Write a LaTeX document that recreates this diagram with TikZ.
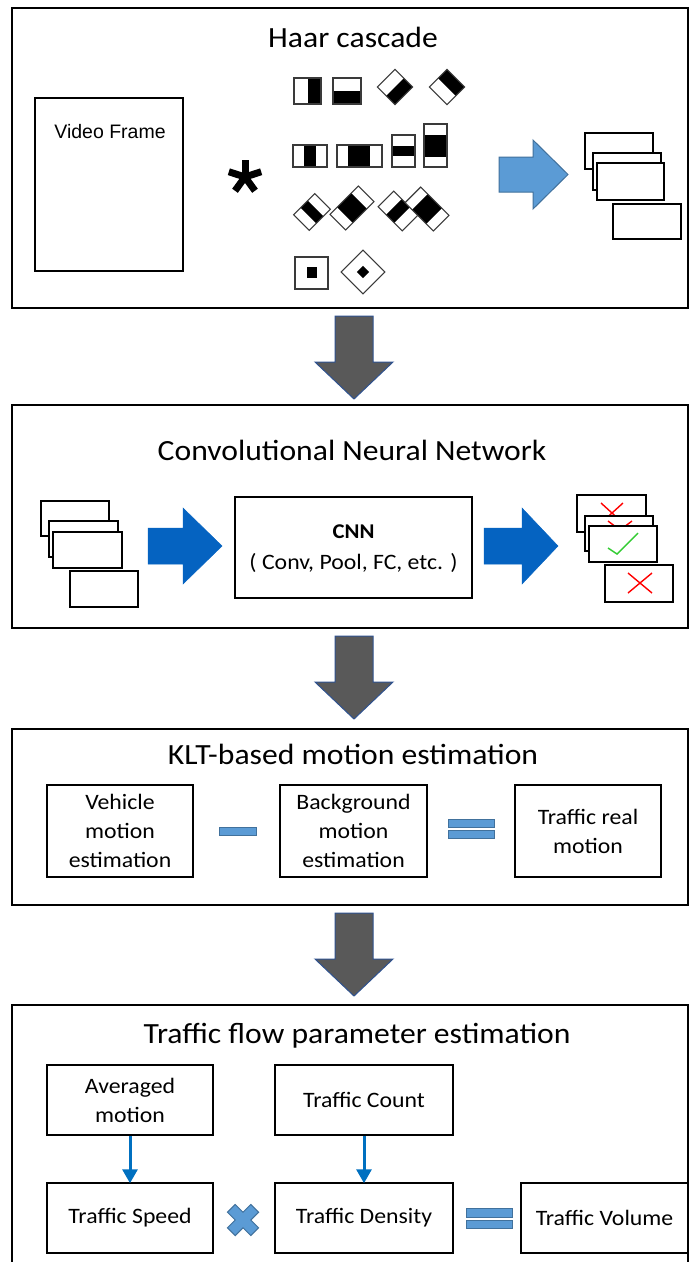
\documentclass[tikz,border=0pt]{standalone}
\usepackage{fontspec}
\setmainfont[FakeStretch=1.08]{Carlito}
\newfontfamily\arialf{Liberation Sans}
\usetikzlibrary{arrows.meta}
\definecolor{grayarrow}{HTML}{595959}
\definecolor{grayedge}{HTML}{2F528F}
\definecolor{lightblue}{HTML}{5B9BD5}
\definecolor{lightedge}{HTML}{41719C}
\definecolor{darkblue}{HTML}{0563C1}
\definecolor{flowblue}{HTML}{0070C0}
\definecolor{okgreen}{HTML}{33CC33}
\definecolor{haaredge}{HTML}{3A3A3A}
\begin{document}
\begin{tikzpicture}[x=1pt,y=-1pt,
  panel/.style={draw=black,line width=1.5pt},
  titletext/.style={anchor=base,inner sep=0pt,font=\fontsize{29.3}{34}\selectfont},
  box/.style={draw=black,line width=1.5pt,fill=white,inner sep=0pt,align=center,font=\fontsize{22}{29}\selectfont},
  frame/.style={draw=black,line width=2pt,fill=white},
  haar/.style={draw=haaredge,line width=1.1pt},
  grayarr/.style={fill=grayarrow,draw=grayedge,line width=1pt,line join=miter},
  bluearr/.style={fill=lightblue,draw=lightedge,line width=1pt},
  darkarr/.style={fill=darkblue,draw=darkblue,line width=0.5pt},
  opshape/.style={fill=lightblue,draw=lightedge,line width=1pt},
  flowarr/.style={draw=flowblue,line width=3pt,-{Triangle[width=15pt,length=14pt]},shorten >=-1pt},
  nomark/.style={draw=red,line width=1.4pt},
  okmark/.style={draw=okgreen,line width=1.4pt}
]
\useasboundingbox (0,0) rectangle (689,1262);
\clip (0,0) rectangle (689,1262);
\fill[white] (0,0) rectangle (689,1262);

% ---------------- Panel 1: Haar cascade ----------------
\draw[panel] (12,8) rectangle (688,308);
\node[titletext] (t1) at (353,47) {Haar cascade};
\node[draw=black,line width=1.5pt,minimum width=148pt,minimum height=173pt,inner sep=0pt] (vf) at (109,184.5) {};
\node[font=\arialf\fontsize{19.5}{22}\selectfont,inner sep=0pt] (vft) at (110,132) {Video Frame};
% asterisk
\foreach \a in {-90,-18,-162,54,126} \draw[line width=7pt] (245,177) -- ++(\a:17);

% Haar features, row 1
\fill[white] (294,78) rectangle (321,104);
\fill[black] (307.5,78) rectangle (321,104);
\draw[haar] (294,78) rectangle (321,104);
\fill[black] (333,91) rectangle (361,104);
\draw[haar] (333,78) rectangle (361,104);
\begin{scope}[shift={(395,87)},rotate=-45]
  \fill[black] (0,-12.5) rectangle (12.5,12.5);
  \draw[haar] (-12.5,-12.5) rectangle (12.5,12.5);
\end{scope}
\begin{scope}[shift={(447,87)},rotate=45]
  \fill[black] (0,-12.5) rectangle (12.5,12.5);
  \draw[haar] (-12.5,-12.5) rectangle (12.5,12.5);
\end{scope}
% row 2
\fill[black] (304,145) rectangle (316,167);
\draw[haar] (293,145) rectangle (327,167);
\fill[black] (348,145) rectangle (370,167);
\draw[haar] (337,145) rectangle (382,167);
\fill[black] (392,146) rectangle (415,156);
\draw[haar] (392,135) rectangle (415,167);
\fill[black] (424,135) rectangle (447,157);
\draw[haar] (424,124) rectangle (447,167);
% row 3
\begin{scope}[shift={(312,212)},rotate=45]
  \fill[black] (-5,-11) rectangle (5,11);
  \draw[haar] (-15,-11) rectangle (15,11);
\end{scope}
\begin{scope}[shift={(352,208)},rotate=45]
  \fill[black] (-10,-11) rectangle (10,11);
  \draw[haar] (-20,-11) rectangle (20,11);
\end{scope}
\begin{scope}[shift={(398,211)},rotate=-45]
  \fill[white] (-17,-11) rectangle (17,11);
  \fill[black] (-5.7,-11) rectangle (5.7,11);
  \draw[haar] (-17,-11) rectangle (17,11);
\end{scope}
\begin{scope}[shift={(427,209)},rotate=-45]
  \fill[white] (-20,-11) rectangle (20,11);
  \fill[black] (-10,-11) rectangle (10,11);
  \draw[haar] (-20,-11) rectangle (20,11);
\end{scope}
% row 4
\fill[black] (307,267) rectangle (317,278);
\draw[haar] (295,257) rectangle (328,289);
\begin{scope}[shift={(363,272)},rotate=45]
  \fill[black] (-4.3,-4.3) rectangle (4.3,4.3);
  \draw[haar] (-15.5,-15.5) rectangle (15.5,15.5);
\end{scope}

% blue arrow
\draw[bluearr] (499,157) -- (533,157) -- (533,140) -- (568,174.5) -- (533,209) -- (533,192) -- (499,192) -- cycle;
% detections
\draw[frame] (585,133) rectangle (653,169);
\draw[frame] (593,153) rectangle (661,190);
\draw[frame] (597,163) rectangle (664,200);
\draw[frame] (613,204) rectangle (681,239);

% gray arrow 1
\draw[grayarr] (335,316) -- (373,316) -- (373,362) -- (393,362) -- (354,399) -- (315,362) -- (335,362) -- cycle;

% ---------------- Panel 2: CNN ----------------
\draw[panel] (12,405) rectangle (688,628);
\node[titletext] (t2) at (352,460) {Convolutional Neural Network};
\draw[frame] (41,501) rectangle (109,536);
\draw[frame] (49,521) rectangle (118,557);
\draw[frame] (53,532) rectangle (122,568);
\draw[frame] (70,571) rectangle (138,607);
\draw[darkarr] (148,528) -- (183,528) -- (183,508) -- (222,546) -- (183,584) -- (183,564) -- (148,564) -- cycle;
\node[box,minimum width=237pt,minimum height=101pt] (cnn) at (353.5,547.5) {};
\node[font=\fontsize{21}{24}\selectfont\bfseries,inner sep=0pt] (cnnt) at (353.5,532) {CNN};
\node[font=\fontsize{22}{26}\selectfont,inner sep=0pt] (cnns) at (353.5,563) {( Conv, Pool, FC, etc. )};
\draw[darkarr] (484,528) -- (522,528) -- (522,508) -- (558,546) -- (522,584) -- (522,564) -- (484,564) -- cycle;
\draw[frame] (577,495) rectangle (646,532);
\draw[nomark] (601,503) -- (623,523) (623,503) -- (601,523);
\draw[frame] (585,516) rectangle (653,551);
\draw[nomark] (608,521) -- (632,539) (632,521) -- (608,539);
\draw[frame] (589,526) rectangle (657,562);
\draw[okmark] (608,548) -- (617,554) -- (638,533);
\draw[frame] (605,565) rectangle (673,602);
\draw[nomark] (628,573) -- (652,593) (652,573) -- (628,593);

% gray arrow 2
\draw[grayarr] (335,636) -- (373,636) -- (373,682) -- (393,682) -- (354,719) -- (315,682) -- (335,682) -- cycle;

% ---------------- Panel 3: KLT ----------------
\draw[panel] (12,729) rectangle (688,905);
\node[titletext] (t3) at (353,764) {KLT-based motion estimation};
\node[box,minimum width=146pt,minimum height=92pt] (veh) at (120,831) {Vehicle\\motion\\estimation};
\node[box,minimum width=147pt,minimum height=92pt] (bg) at (353.5,831) {Background\\motion\\estimation};
\node[box,minimum width=146pt,minimum height=92pt] (real) at (588,831) {Traffic real\\motion};
\draw[opshape] (219,827) rectangle (256,835);
\draw[opshape] (448,819) rectangle (494,827);
\draw[opshape] (448,830) rectangle (494,838);

% gray arrow 3
\draw[grayarr] (335,913) -- (373,913) -- (373,959) -- (393,959) -- (354,996) -- (315,959) -- (335,959) -- cycle;

% ---------------- Panel 4: Traffic flow ----------------
\draw[panel] (12,1005) rectangle (688,1280);
\node[titletext] (t4) at (357,1043) {Traffic flow parameter estimation};
\node[box,minimum width=166pt,minimum height=70pt] (avg) at (130,1100) {Averaged\\motion};
\node[box,minimum width=178pt,minimum height=70pt] (count) at (364,1100) {Traffic Count};
\node[box,minimum width=166pt,minimum height=70pt] (speed) at (130,1218) {Traffic Speed};
\node[box,minimum width=178pt,minimum height=70pt] (dens) at (364,1218) {Traffic Density};
\node[box,minimum width=167pt,minimum height=70pt] (vol) at (604.5,1218) {Traffic Volume};
\draw[flowarr] (avg.south) -- (speed.north);
\draw[flowarr] (count.south) -- (dens.north);
\begin{scope}[shift={(243,1220)},rotate=45]
  \draw[opshape] (-5.5,-16.5) -- (5.5,-16.5) -- (5.5,-5.5) -- (16.5,-5.5) -- (16.5,5.5) -- (5.5,5.5) -- (5.5,16.5) -- (-5.5,16.5) -- (-5.5,5.5) -- (-16.5,5.5) -- (-16.5,-5.5) -- (-5.5,-5.5) -- cycle;
\end{scope}
\draw[opshape] (466,1208) rectangle (512,1217);
\draw[opshape] (466,1220) rectangle (512,1228);
\end{tikzpicture}
\end{document}
